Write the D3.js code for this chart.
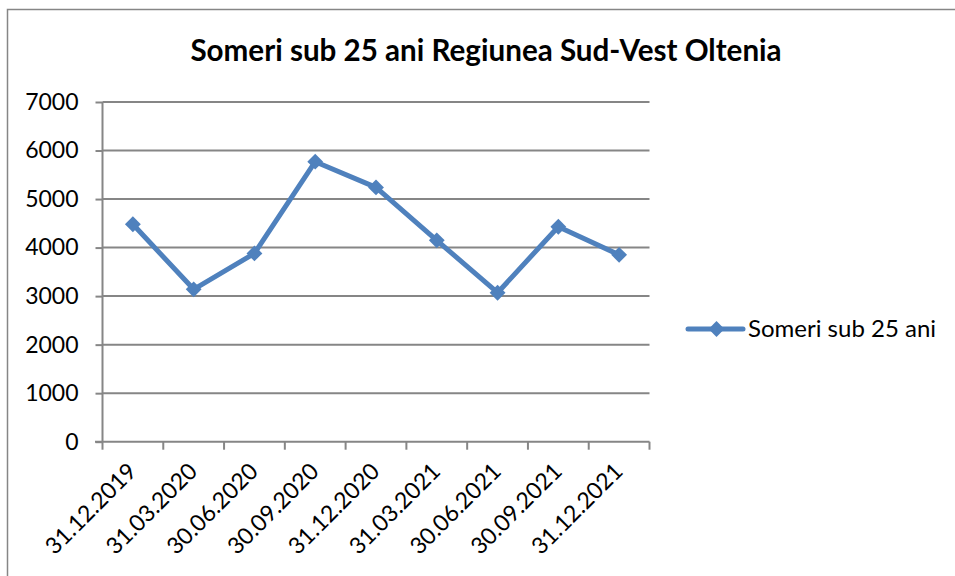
<!DOCTYPE html>
<html>
<head>
<meta charset="utf-8">
<script src="https://cdn.jsdelivr.net/npm/d3@7.9.0/dist/d3.min.js"></script>
<style>
  body { margin: 0; background: #fff; }
  svg { display: block; font-family: Lato, "Open Sans", sans-serif; }
</style>
</head>
<body>
<svg width="955" height="576"></svg>
<script>
// chart data
const dates = ["31.12.2019", "31.03.2020", "30.06.2020", "30.09.2020", "31.12.2020",
               "31.03.2021", "30.06.2021", "30.09.2021", "31.12.2021"];
const someri = [4480, 3140, 3880, 5770, 5240, 4150, 3070, 4430, 3850];
const yTicks = [0, 1000, 2000, 3000, 4000, 5000, 6000, 7000];
const seriesName = "Someri sub 25 ani";
const title = "Someri sub 25 ani Regiunea Sud-Vest Oltenia";

const svg = d3.select("svg");
const blue = "#4f81bd";
const grey = "#868686";

// outer chart border
svg.append("rect")
    .attr("x", 7.5).attr("y", 9.5)
    .attr("width", 960).attr("height", 600)
    .attr("fill", "none")
    .attr("stroke", grey)
    .attr("stroke-width", 1.5);

let x = d3.scaleBand().domain(dates).range([102.5, 649.5]);
let y = d3.scaleLinear().domain([0, 7000]).range([441.7, 102]);

// horizontal gridlines
svg.append("g")
    .selectAll("line")
    .data(yTicks.filter(d => d > 0))
    .enter()
    .append("line")
    .attr("x1", 102.5).attr("x2", 649.5)
    .attr("y1", d => y(d)).attr("y2", d => y(d))
    .attr("stroke", grey).attr("stroke-width", 2);

// y axis
let yAxis = svg.append("g")
    .attr("transform", "translate(102.5,0)")
    .call(d3.axisLeft(y).tickValues(yTicks).tickSize(7).tickPadding(17).tickFormat(d3.format("d")));
yAxis.selectAll("line").attr("stroke", grey).attr("stroke-width", 2);
yAxis.select(".domain").attr("stroke", grey).attr("stroke-width", 2)
    .attr("d", `M0,${y(7000)}V${y(0)}`);
yAxis.selectAll("text")
    .attr("font-size", 23)
    .attr("fill", "#000")
    .attr("font-family", "Lato, sans-serif");

// x axis ticks on category boundaries
let xAxisG = svg.append("g");
let bounds = dates.map(d => x(d)).concat([x.range()[1]]);
xAxisG.append("line")
    .attr("x1", 95).attr("x2", 649.5)
    .attr("y1", y(0)).attr("y2", y(0))
    .attr("stroke", grey).attr("stroke-width", 2);
xAxisG.selectAll(".tk")
    .data(bounds)
    .enter()
    .append("line")
    .attr("class", "tk")
    .attr("x1", d => d).attr("x2", d => d)
    .attr("y1", y(0)).attr("y2", y(0) + 8)
    .attr("stroke", grey).attr("stroke-width", 2);

// rotated category labels
xAxisG.selectAll("text")
    .data(dates)
    .enter()
    .append("text")
    .attr("transform", d => `translate(${x(d) + x.bandwidth() / 2 + 5},${y(0) + 31}) rotate(-45)`)
    .attr("text-anchor", "end")
    .attr("font-size", 23)
    .attr("fill", "#000")
    .text(d => d);

// the series line
let line = d3.line()
    .x((d, i) => x(dates[i]) + x.bandwidth() / 2)
    .y(d => y(d));

svg.append("path")
    .datum(someri)
    .attr("d", line)
    .attr("fill", "none")
    .attr("stroke", blue)
    .attr("stroke-width", 5)
    .attr("stroke-linejoin", "round");

let diamond = d3.symbol().type(d3.symbolDiamond2).size(160);
svg.append("g")
    .selectAll("path")
    .data(someri)
    .enter()
    .append("path")
    .attr("d", diamond)
    .attr("transform", (d, i) => `translate(${x(dates[i]) + x.bandwidth() / 2},${y(d)})`)
    .attr("fill", blue);

// title
svg.append("text")
    .attr("x", 486).attr("y", 61)
    .attr("text-anchor", "middle")
    .attr("font-size", 29.6)
    .attr("font-weight", "bold")
    .attr("fill", "#000")
    .text(title);

// legend
let lg = svg.append("g").attr("transform", "translate(688,329)");
lg.append("line")
    .attr("x1", 0).attr("x2", 55)
    .attr("stroke", blue).attr("stroke-width", 5)
    .attr("stroke-linecap", "round");
lg.append("path")
    .attr("d", diamond)
    .attr("transform", "translate(28.5,0)")
    .attr("fill", blue);
lg.append("text")
    .attr("x", 60).attr("y", 8)
    .attr("font-size", 24)
    .attr("fill", "#000")
    .text(seriesName);
</script>
</body>
</html>
